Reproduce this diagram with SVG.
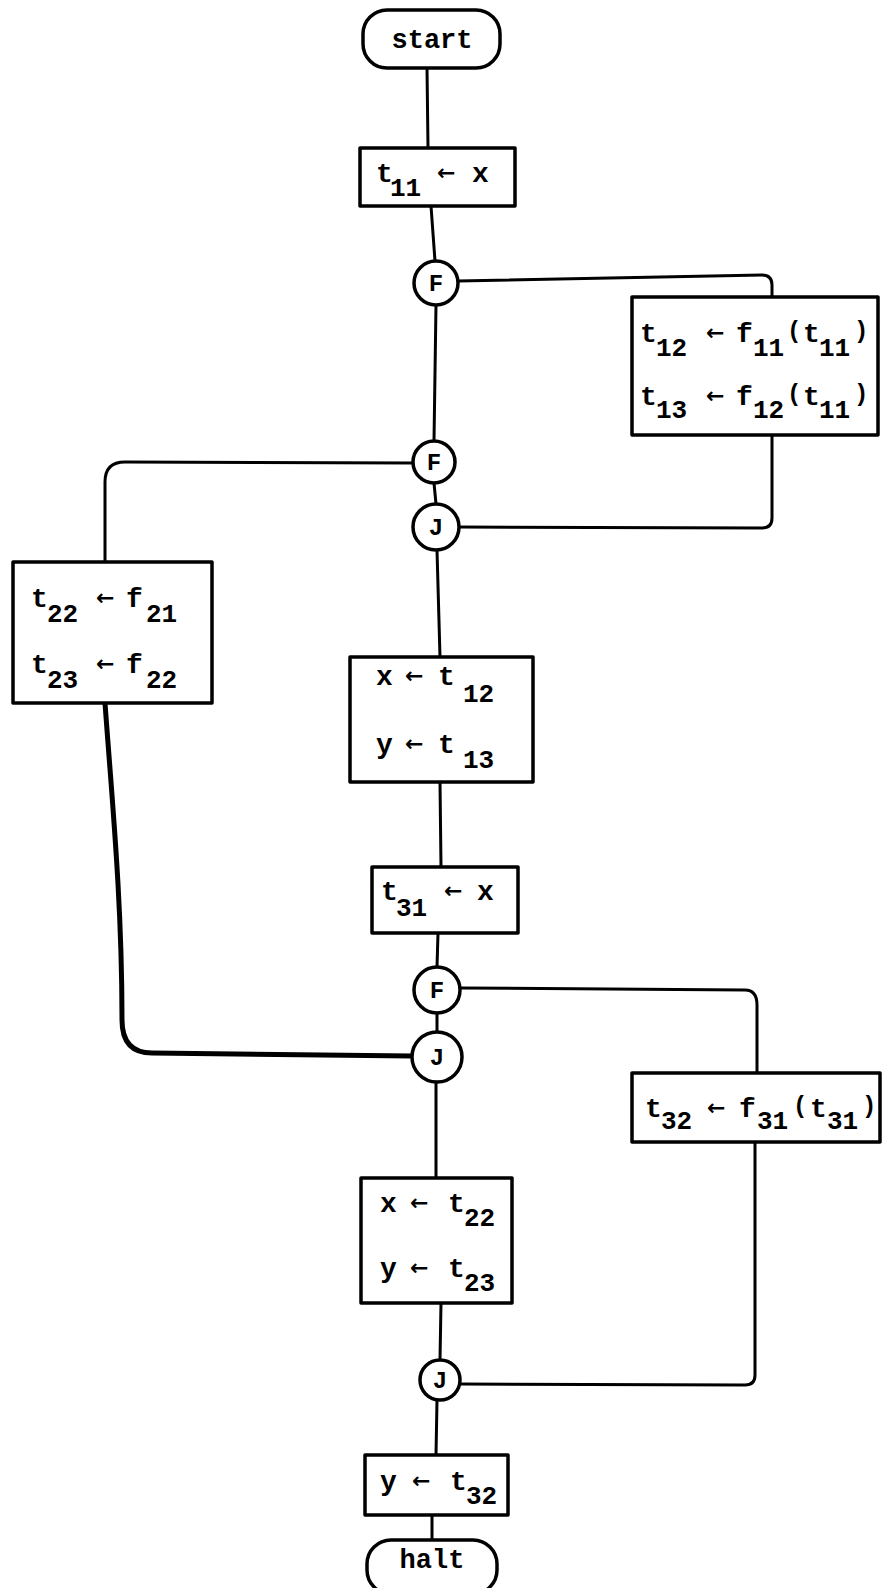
<svg xmlns="http://www.w3.org/2000/svg" width="883" height="1588" viewBox="0 0 883 1588">
<style>
.bg{fill:#ffffff}
.box{fill:#ffffff;stroke:#000000;stroke-width:3.5;stroke-linejoin:round}
.node{fill:#ffffff;stroke:#000000;stroke-width:3.5}
.wire{fill:none;stroke:#000000;stroke-width:3;stroke-linecap:round;stroke-linejoin:round}
.thick{stroke-width:5}
text{font-family:"Liberation Mono","Courier New",monospace;font-weight:bold;fill:#000000}
.m{font-size:28px}
.s{font-size:26px}
.a{font-size:22px;font-family:"DejaVu Sans","Liberation Sans",sans-serif}
.p{font-size:24px}
.c{font-size:24px;text-anchor:middle}
.term{font-size:27px;text-anchor:middle}
</style>
<rect class="bg" x="0" y="0" width="883" height="1588"/>
<g id="connectors">
<path class="wire" d="M427 68 L428 148"/>
<path class="wire" d="M431 206 L435 261"/>
<path class="wire" d="M458 281 L762 275 Q772 275 772 285 L772 297"/>
<path class="wire" d="M436 305 L434 441"/>
<path class="wire" d="M413 463 L125 462 Q105 462 105 482 L105 562"/>
<path class="wire" d="M772 435 L772 518 Q772 528 762 528 L459 527"/>
<path class="wire" d="M434 483 L436 504"/>
<path class="wire" d="M437 550 L440 657"/>
<path class="wire thick" d="M105 703 C112 800 122 900 122 1020 Q122 1053 152 1053 L412 1056"/>
<path class="wire" d="M440 782 L441 867"/>
<path class="wire" d="M438 933 L437 967"/>
<path class="wire" d="M460 988 L745 990 Q757 990 757 1005 L757 1073"/>
<path class="wire" d="M437 1013 L437 1032"/>
<path class="wire" d="M436 1082 L436 1178"/>
<path class="wire" d="M755 1142 L755 1375 Q755 1385 745 1385 L460 1384"/>
<path class="wire" d="M441 1303 L440 1360"/>
<path class="wire" d="M437 1400 L436 1455"/>
<path class="wire" d="M432 1515 L432 1540"/>
</g>
<g id="start">
<rect class="box" x="363" y="10" width="137" height="58" rx="24"/>
<text class="term" x="432" y="48">start</text>
</g>
<g id="t11box">
<rect class="box" x="360" y="148" width="155" height="58"/>
<text><tspan class="m" x="376" y="182">t</tspan><tspan class="s" x="390" y="196">11</tspan><tspan class="a" x="437" y="180">←</tspan><tspan class="m" x="472" y="182">x</tspan></text>
</g>
<g id="fork1">
<circle class="node" cx="436" cy="283" r="22"/>
<text class="c" x="436" y="291">F</text>
</g>
<g id="t12box">
<rect class="box" x="632" y="297" width="246" height="138"/>
<text><tspan class="m" x="640" y="342">t</tspan><tspan class="s" x="656" y="356">12</tspan><tspan class="a" x="706" y="340">←</tspan><tspan class="m" x="736" y="342">f</tspan><tspan class="s" x="753" y="356">11</tspan><tspan class="p" x="787" y="338">(</tspan><tspan class="m" x="803" y="342">t</tspan><tspan class="s" x="819" y="356">11</tspan><tspan class="p" x="854" y="338">)</tspan></text>
<text><tspan class="m" x="640" y="405">t</tspan><tspan class="s" x="656" y="418">13</tspan><tspan class="a" x="706" y="403">←</tspan><tspan class="m" x="736" y="405">f</tspan><tspan class="s" x="753" y="418">12</tspan><tspan class="p" x="787" y="401">(</tspan><tspan class="m" x="803" y="405">t</tspan><tspan class="s" x="819" y="418">11</tspan><tspan class="p" x="854" y="401">)</tspan></text>
</g>
<g id="fork2">
<circle class="node" cx="434" cy="462" r="21"/>
<text class="c" x="434" y="470">F</text>
</g>
<g id="join1">
<circle class="node" cx="436" cy="527" r="23"/>
<text class="c" x="436" y="535">J</text>
</g>
<g id="t22box">
<rect class="box" x="13" y="562" width="199" height="141"/>
<text><tspan class="m" x="31" y="607">t</tspan><tspan class="s" x="47" y="622">22</tspan><tspan class="a" x="96" y="605">←</tspan><tspan class="m" x="126" y="607">f</tspan><tspan class="s" x="146" y="622">21</tspan></text>
<text><tspan class="m" x="31" y="673">t</tspan><tspan class="s" x="47" y="688">23</tspan><tspan class="a" x="96" y="671">←</tspan><tspan class="m" x="126" y="673">f</tspan><tspan class="s" x="146" y="688">22</tspan></text>
</g>
<g id="xt12box">
<rect class="box" x="350" y="657" width="183" height="125"/>
<text><tspan class="m" x="376" y="685">x</tspan><tspan class="a" x="405" y="683">←</tspan><tspan class="m" x="438" y="685">t</tspan><tspan class="s" x="463" y="702">12</tspan></text>
<text><tspan class="m" x="376" y="753">y</tspan><tspan class="a" x="405" y="751">←</tspan><tspan class="m" x="438" y="753">t</tspan><tspan class="s" x="463" y="768">13</tspan></text>
</g>
<g id="t31box">
<rect class="box" x="372" y="867" width="146" height="66"/>
<text><tspan class="m" x="381" y="900">t</tspan><tspan class="s" x="396" y="916">31</tspan><tspan class="a" x="444" y="898">←</tspan><tspan class="m" x="477" y="900">x</tspan></text>
</g>
<g id="fork3">
<circle class="node" cx="437" cy="990" r="23"/>
<text class="c" x="437" y="998">F</text>
</g>
<g id="join2">
<circle class="node" cx="437" cy="1057" r="25"/>
<text class="c" x="437" y="1065">J</text>
</g>
<g id="t32box">
<rect class="box" x="632" y="1073" width="248" height="69"/>
<text><tspan class="m" x="645" y="1117">t</tspan><tspan class="s" x="661" y="1129">32</tspan><tspan class="a" x="707" y="1115">←</tspan><tspan class="m" x="739" y="1117">f</tspan><tspan class="s" x="757" y="1129">31</tspan><tspan class="p" x="793" y="1113">(</tspan><tspan class="m" x="810" y="1117">t</tspan><tspan class="s" x="827" y="1129">31</tspan><tspan class="p" x="862" y="1113">)</tspan></text>
</g>
<g id="xt22box">
<rect class="box" x="361" y="1178" width="151" height="125"/>
<text><tspan class="m" x="380" y="1212">x</tspan><tspan class="a" x="410" y="1210">←</tspan><tspan class="m" x="448" y="1212">t</tspan><tspan class="s" x="464" y="1226">22</tspan></text>
<text><tspan class="m" x="380" y="1277">y</tspan><tspan class="a" x="410" y="1275">←</tspan><tspan class="m" x="448" y="1277">t</tspan><tspan class="s" x="464" y="1291">23</tspan></text>
</g>
<g id="join3">
<circle class="node" cx="440" cy="1380" r="20"/>
<text class="c" x="440" y="1388">J</text>
</g>
<g id="yt32box">
<rect class="box" x="365" y="1455" width="143" height="60"/>
<text><tspan class="m" x="380" y="1490">y</tspan><tspan class="a" x="412" y="1488">←</tspan><tspan class="m" x="450" y="1490">t</tspan><tspan class="s" x="466" y="1504">32</tspan></text>
</g>
<g id="halt">
<rect class="box" x="367" y="1540" width="130" height="54" rx="24"/>
<text class="term" x="432" y="1568">halt</text>
</g>
</svg>
